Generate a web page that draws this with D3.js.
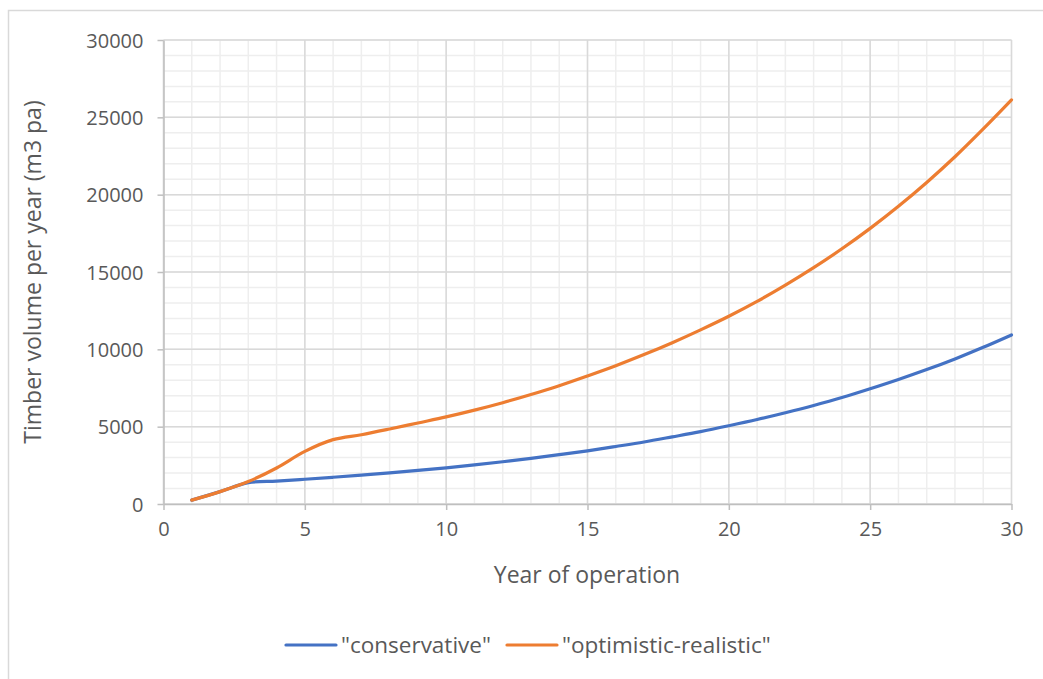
<!DOCTYPE html>
<html>
<head>
<meta charset="utf-8">
<script src="https://cdn.jsdelivr.net/npm/d3@7"></script>
<style>
  html, body { margin: 0; padding: 0; background: #ffffff; }
  svg { display: block; font-family: "Open Sans", "Noto Sans", sans-serif; }
</style>
</head>
<body>
<svg id="chart" width="1043" height="679"></svg>
<script>
// Year of operation (x values)
const years = d3.range(1, 31);

// Timber volume per year (m3 pa) for each scenario
const conservative = [
  250, 800, 1380, 1480, 1600, 1730, 1870, 2010, 2170, 2340,
  2530, 2730, 2950, 3190, 3440, 3720, 4010, 4340, 4680, 5060,
  5460, 5900, 6370, 6880, 7450, 8050, 8690, 9380, 10130, 10930
];
const optimisticRealistic = [
  250, 800, 1450, 2330, 3400, 4160, 4480, 4850, 5240, 5630,
  6070, 6550, 7080, 7650, 8280, 8940, 9660, 10430, 11260, 12140,
  13100, 14150, 15280, 16500, 17820, 19250, 20790, 22450, 24250, 26130
];

const seriesNames = ['"conservative"', '"optimistic-realistic"'];
const seriesColors = ["#4472C4", "#ED7D31"];

const xTicks = [0, 5, 10, 15, 20, 25, 30];
const yTicks = [0, 5000, 10000, 15000, 20000, 25000, 30000];
const xMinor = d3.range(0, 31, 1);
const yMinor = d3.range(0, 30001, 1000);

const svg = d3.select("#chart");

// outer chart frame
svg.append("rect")
  .attr("x", 8.5).attr("y", 10.5)
  .attr("width", 1100).attr("height", 700)
  .attr("fill", "none").attr("stroke", "#d9d9d9").attr("stroke-width", 1.5);

const x = d3.scaleLinear().domain([0, 30]).range([163.5, 1011.5]);
const y = d3.scaleLinear().domain([0, 30000]).range([504, 40]);

// minor gridlines
const grid = svg.append("g");
grid.selectAll(".vmin").data(xMinor).join("line")
  .attr("x1", d => x(d)).attr("x2", d => x(d))
  .attr("y1", y(0)).attr("y2", y(30000))
  .attr("stroke", "#eeeeee").attr("stroke-width", 1.5);
grid.selectAll(".hmin").data(yMinor).join("line")
  .attr("x1", x(0)).attr("x2", x(30))
  .attr("y1", d => y(d)).attr("y2", d => y(d))
  .attr("stroke", "#eeeeee").attr("stroke-width", 1.5);
// major gridlines
grid.selectAll(".vmaj").data(xTicks).join("line")
  .attr("x1", d => x(d)).attr("x2", d => x(d))
  .attr("y1", y(0)).attr("y2", y(30000))
  .attr("stroke", "#d9d9d9").attr("stroke-width", 1.5);
grid.selectAll(".hmaj").data(yTicks).join("line")
  .attr("x1", x(0)).attr("x2", x(30))
  .attr("y1", d => y(d)).attr("y2", d => y(d))
  .attr("stroke", "#d9d9d9").attr("stroke-width", 1.5);

// axes
const xAxis = svg.append("g")
  .attr("transform", `translate(0,${y(0)})`)
  .call(d3.axisBottom(x).tickValues(xTicks).tickSize(6).tickPadding(12).tickSizeOuter(0));
const yAxis = svg.append("g")
  .attr("transform", `translate(${x(0)},0)`)
  .call(d3.axisLeft(y).tickValues(yTicks).tickSize(6).tickPadding(14).tickSizeOuter(0).tickFormat(d3.format("d")));

[xAxis, yAxis].forEach(g => {
  g.select(".domain").attr("stroke", "#bfbfbf").attr("stroke-width", 1.5);
  g.selectAll(".tick line").attr("stroke", "#bfbfbf").attr("stroke-width", 1.5);
  g.selectAll(".tick text")
    .attr("fill", "#595959")
    .style("font-family", '"Open Sans", sans-serif')
    .style("font-size", "20px");
});
yAxis.selectAll(".tick text").attr("dy", "0.35em");

// axis titles
svg.append("text")
  .attr("x", 587).attr("y", 583)
  .attr("text-anchor", "middle")
  .attr("fill", "#595959")
  .style("font-size", "23px")
  .text("Year of operation");
svg.append("text")
  .attr("transform", "translate(41,272) rotate(-90)")
  .attr("text-anchor", "middle")
  .attr("fill", "#595959")
  .style("font-size", "23px")
  .text("Timber volume per year (m3 pa)");

// series lines
const line = d3.line()
  .x((d, i) => x(years[i]))
  .y(d => y(d))
  .curve(d3.curveCatmullRom.alpha(0.5));

[conservative, optimisticRealistic].forEach((vals, i) => {
  svg.append("path")
    .datum(vals)
    .attr("d", line)
    .attr("fill", "none")
    .attr("stroke", seriesColors[i])
    .attr("stroke-width", 3.2)
    .attr("stroke-linecap", "round");
});

// legend
const legendItems = [
  { x1: 286, x2: 336, tx: 341 },
  { x1: 507, x2: 557, tx: 562 }
];
const legend = svg.append("g");
legendItems.forEach((it, i) => {
  legend.append("line")
    .attr("x1", it.x1).attr("x2", it.x2)
    .attr("y1", 645).attr("y2", 645)
    .attr("stroke", seriesColors[i]).attr("stroke-width", 3.2)
    .attr("stroke-linecap", "round");
  legend.append("text")
    .attr("x", it.tx).attr("y", 645).attr("dy", "0.35em")
    .attr("fill", "#595959")
    .style("font-size", "22.5px")
    .text(seriesNames[i]);
});
</script>
</body>
</html>
